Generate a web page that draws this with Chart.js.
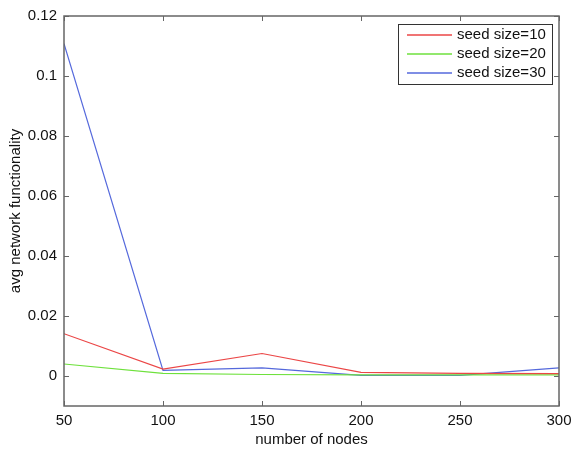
<!DOCTYPE html>
<html>
<head>
<meta charset="utf-8">
<script src="https://cdn.jsdelivr.net/npm/chart.js@4"></script>
<style>
  html, body { margin: 0; padding: 0; background: #fff; }
  #wrap { width: 571px; height: 449px; }
</style>
</head>
<body>
<div id="wrap"><canvas id="myChart" width="571" height="449"></canvas></div>
<script>
const nodeCounts = [50, 100, 150, 200, 250, 300];
const seedSize10 = [0.0141, 0.0023, 0.0075, 0.0012, 0.0009, 0.0008];
const seedSize20 = [0.0040, 0.0009, 0.0005, 0.0004, 0.0004, 0.0004];
const seedSize30 = [0.1108, 0.0019, 0.0027, 0.0002, 0.0002, 0.0027];
const yTicks = [0, 0.02, 0.04, 0.06, 0.08, 0.1, 0.12];
const xTicks = [50, 100, 150, 200, 250, 300];

const FONT = "'Liberation Sans', Arial, sans-serif";
const AXIS_COLOR = "#666";

function points(values) {
    return nodeCounts.map((n, i) => ({ x: n, y: values[i] }));
}

// box around the axes with inward ticks on all four sides
const axesBox = {
    id: "axesBox",
    afterDraw(chart) {
        const ctx = chart.ctx;
        const a = chart.chartArea;
        const xs = chart.scales.x;
        const ys = chart.scales.y;
        const len = 5;
        ctx.save();
        ctx.strokeStyle = AXIS_COLOR;
        ctx.lineWidth = 1;
        xTicks.forEach(v => {
            const px = Math.round(xs.getPixelForValue(v)) + 0.5;
            ctx.beginPath();
            ctx.moveTo(px, a.bottom); ctx.lineTo(px, a.bottom - len);
            ctx.moveTo(px, a.top); ctx.lineTo(px, a.top + len);
            ctx.stroke();
        });
        yTicks.forEach(v => {
            const py = Math.round(ys.getPixelForValue(v)) + 0.5;
            ctx.beginPath();
            ctx.moveTo(a.left, py); ctx.lineTo(a.left + len, py);
            ctx.moveTo(a.right, py); ctx.lineTo(a.right - len, py);
            ctx.stroke();
        });
        ctx.lineWidth = 1.5;
        ctx.strokeRect(a.left, a.top, a.right - a.left, a.bottom - a.top);
        ctx.restore();
    }
};

// legend drawn as a framed box in the top right corner of the plot
const boxLegend = {
    id: "boxLegend",
    afterDraw(chart) {
        const ctx = chart.ctx;
        const a = chart.chartArea;
        const w = 154, h = 60;
        const x0 = Math.round(a.right - 7 - w);
        const y0 = Math.round(a.top + 8);
        ctx.save();
        ctx.fillStyle = "#fff";
        ctx.fillRect(x0, y0, w, h);
        ctx.strokeStyle = "#333";
        ctx.lineWidth = 1;
        ctx.strokeRect(x0 + 0.5, y0 + 0.5, w, h);
        ctx.font = "15px " + FONT;
        ctx.textBaseline = "middle";
        chart.data.datasets.forEach((ds, i) => {
            const cy = y0 + 11 + i * 19;
            ctx.strokeStyle = ds.borderColor;
            ctx.lineWidth = 1.3;
            ctx.beginPath();
            ctx.moveTo(x0 + 9, cy);
            ctx.lineTo(x0 + 54, cy);
            ctx.stroke();
            ctx.fillStyle = "#111";
            ctx.fillText(ds.label, x0 + 59, cy);
        });
        ctx.restore();
    }
};

const chart = new Chart(document.getElementById("myChart"), {
    type: "line",
    data: {
        datasets: [
            { label: "seed size=10", data: points(seedSize10), borderColor: "rgb(235,70,70)" },
            { label: "seed size=20", data: points(seedSize20), borderColor: "rgb(110,225,60)" },
            { label: "seed size=30", data: points(seedSize30), borderColor: "rgb(85,105,220)" }
        ]
    },
    options: {
        responsive: false,
        animation: false,
        elements: {
            line: { borderWidth: 1.2, tension: 0 },
            point: { radius: 0 }
        },
        layout: { padding: { top: 14, right: 12, left: 0, bottom: 0 } },
        plugins: { legend: { display: false }, tooltip: { enabled: false } },
        scales: {
            x: {
                type: "linear",
                min: 50,
                max: 300,
                afterBuildTicks: s => { s.ticks = xTicks.map(v => ({ value: v })); },
                afterFit: s => { s.height = 43; s.paddingLeft = 0; s.paddingRight = 0; },
                grid: { display: false, drawTicks: false },
                border: { display: false },
                ticks: { color: "#111", font: { family: FONT, size: 15 }, padding: 6, maxRotation: 0 },
                title: { display: true, text: "number of nodes", color: "#111", font: { family: FONT, size: 15 }, padding: { top: 0, bottom: 0 } }
            },
            y: {
                min: -0.01,
                max: 0.12,
                afterBuildTicks: s => { s.ticks = yTicks.map(v => ({ value: v })); },
                afterFit: s => { s.width = 64; },
                grid: { display: false, drawTicks: false },
                border: { display: false },
                ticks: { color: "#111", font: { family: FONT, size: 15 }, padding: 7, callback: v => String(+v.toFixed(2)) },
                title: { display: true, text: "avg network functionality", color: "#111", font: { family: FONT, size: 15 }, padding: { top: 7, bottom: 0 } }
            }
        }
    },
    plugins: [axesBox, boxLegend]
});
</script>
</body>
</html>
